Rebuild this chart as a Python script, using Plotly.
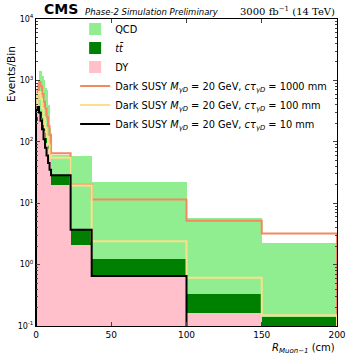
import plotly.graph_objects as go
import numpy as np

# bin edges in R_Muon-1 (cm)
edges = [0, 1, 2, 3, 4, 5, 6, 7, 8, 9, 10, 23, 37, 100, 150, 200]

# stacked backgrounds (events per bin)
dy = [220, 330, 300, 240, 190, 150, 110, 95, 75, 60, 20, 2.1, 0.65, 0.16, 0]
ttbar = [30, 60, 80, 70, 50, 40, 30, 25, 20, 15, 8.6, 1.6, 0.58, 0.17, 0.14]
qcd = [250, 510, 1020, 1090, 960, 810, 610, 580, 305, 95, 33, 54, 21, 5.4, 2.1]

# signal samples (not stacked)
sig_1000 = [400, 700, 940, 800, 600, 450, 350, 250, 180, 130, 65, 20, 11.5, 5.2, 3.2]
sig_100 = [350, 600, 650, 500, 350, 250, 170, 120, 90, 60, 55, 19.5, 2.4, 0.61, 0.15]
sig_10 = [330, 370, 300, 220, 160, 110, 80, 60, 45, 35, 28.6, 3.7, 0.65, 0, 0]

edges_arr = np.array(edges, dtype=float)
centers = 0.5 * (edges_arr[1:] + edges_arr[:-1])
widths = edges_arr[1:] - edges_arr[:-1]

fig = go.Figure()

fig.add_trace(go.Bar(x=centers, y=dy, width=widths, name="DY",
                     marker=dict(color="#ffc0cb", line=dict(width=0)),
                     legendrank=3))
fig.add_trace(go.Bar(x=centers, y=ttbar, width=widths, name="<i>t</i><i>t̄</i>",
                     marker=dict(color="#008000", line=dict(width=0)),
                     legendrank=2))
fig.add_trace(go.Bar(x=centers, y=qcd, width=widths, name="QCD",
                     marker=dict(color="#90ee90", line=dict(width=0)),
                     legendrank=1))


def step(vals):
    floor = 1e-3
    xs = [edges[0]]
    ys = [floor]
    for i, v in enumerate(vals):
        v = v if v > 0 else floor
        xs += [edges[i], edges[i + 1]]
        ys += [v, v]
    xs.append(edges[-1])
    ys.append(floor)
    return xs, ys


signals = [
    (sig_1000, "#f4895f", "1000"),
    (sig_100, "#fbe08a", "100"),
    (sig_10, "#000000", "10"),
]
for k, (vals, col, ct) in enumerate(signals):
    xs, ys = step(vals)
    fig.add_trace(go.Scatter(
        x=xs, y=ys, mode="lines", line=dict(color=col, width=2),
        name=f"Dark SUSY <i>M</i><sub><i>γD</i></sub> = 20 GeV, <i>cτ</i><sub><i>γD</i></sub> = {ct} mm",
        legendrank=4 + k))

minor_vals = [m * 10.0 ** e for e in range(-1, 4) for m in range(2, 10)]

fig.update_layout(
    width=354, height=354,
    barmode="stack", bargap=0,
    template="plotly_white",
    paper_bgcolor="white", plot_bgcolor="white",
    margin=dict(l=36, r=17, t=19, b=28, autoexpand=False),
    font=dict(family="DejaVu Sans", size=10, color="black"),
    showlegend=True,
    legend=dict(x=0.13, y=1.015, xanchor="left", yanchor="top",
                bgcolor="rgba(0,0,0,0)", font=dict(size=9.8),
                tracegroupgap=0, traceorder="normal"),
    xaxis=dict(range=[0, 200], tickvals=[0, 50, 100, 150, 200],
               ticks="inside", ticklen=4, showgrid=False, zeroline=False,
               showline=True, linecolor="black", linewidth=1, mirror="ticks",
               tickfont=dict(size=9)),
    yaxis=dict(type="log", range=[-1, 4],
               tickvals=[0.1, 1, 10, 100, 1000, 10000],
               ticktext=["10<sup>-1</sup>", "10<sup>0</sup>", "10<sup>1</sup>",
                         "10<sup>2</sup>", "10<sup>3</sup>", "10<sup>4</sup>"],
               ticks="inside", ticklen=4, showgrid=False, zeroline=False,
               showline=True, linecolor="black", linewidth=1, mirror="ticks",
               tickfont=dict(size=8),
               minor=dict(tickvals=minor_vals, ticks="inside", ticklen=2,
                          showgrid=False)),
)

fig.add_annotation(text="<b>CMS</b>", xref="paper", yref="paper",
                   x=0.02, y=1.0, xanchor="left", yanchor="bottom",
                   showarrow=False, font=dict(size=14, family="DejaVu Sans"))
fig.add_annotation(text="<i>Phase-2 Simulation Preliminary</i>", xref="paper", yref="paper",
                   x=0.155, y=1.0, xanchor="left", yanchor="bottom",
                   showarrow=False, font=dict(size=8.5, family="DejaVu Sans"))
fig.add_annotation(text="3000 fb<sup>−1</sup> (14 TeV)", xref="paper", yref="paper",
                   x=1.0, y=1.0, xanchor="right", yanchor="bottom",
                   showarrow=False, font=dict(size=10, family="DejaVu Serif"))
fig.add_annotation(text="<i>R</i><sub><i>Muon−1</i></sub> (cm)", xref="paper", yref="paper",
                   x=1.0, y=-0.045, xanchor="right", yanchor="top",
                   showarrow=False, font=dict(size=10))
fig.add_annotation(text="Events/Bin", xref="paper", yref="paper",
                   x=-0.085, y=0.92, xanchor="center", yanchor="top", textangle=-90,
                   showarrow=False, font=dict(size=10.5))

# drop the default page margin so the 354 px figure fills the window
fig.write_html("out.html", config={"displayModeBar": False},
               post_script="document.body.style.margin='0';document.body.style.overflow='hidden';")
